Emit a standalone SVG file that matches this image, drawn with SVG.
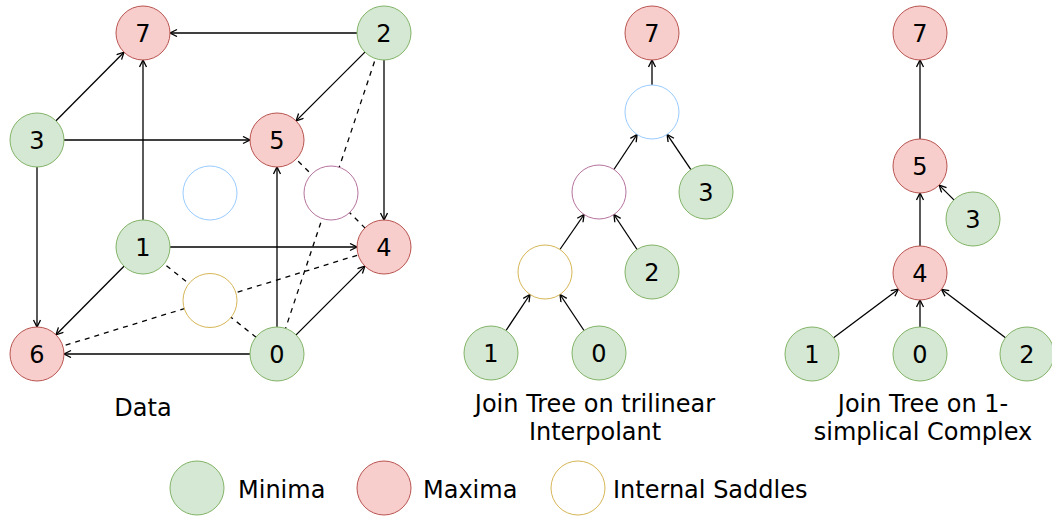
<svg xmlns="http://www.w3.org/2000/svg" width="1052" height="517" viewBox="0 0 1052 517">
<style>
.min{fill:#d5e8d4;stroke:#82b366;stroke-width:1}
.max{fill:#f8cecc;stroke:#b85450;stroke-width:1}
.sy{fill:#fff;stroke:#d6b656;stroke-width:1}
.sp{fill:#fff;stroke:#b5739d;stroke-width:1}
.sb{fill:#fff;stroke:#99ccff;stroke-width:1}
.e{stroke:#000;stroke-width:1.3;fill:none;marker-end:url(#arr)}
.d{stroke:#000;stroke-width:1.3;fill:none;stroke-dasharray:5 5}
text{font-family:"DejaVu Sans","Liberation Sans",sans-serif;font-size:24px;fill:#000}
.n{text-anchor:middle;dominant-baseline:central}
.c{text-anchor:middle}
</style>
<defs>
<marker id="arr" markerWidth="10" markerHeight="10" refX="8" refY="4" orient="auto" markerUnits="userSpaceOnUse">
<path d="M1,0.5 L8,4 L1,7.5" fill="none" stroke="#000" stroke-width="1.3"/>
</marker>
</defs>
<rect width="1052" height="517" fill="#fff"/>
<g id="connectors">
<line class="d" x1="384" y1="33" x2="277" y2="354"/>
<line class="d" x1="277" y1="140" x2="384" y2="247"/>
<line class="d" x1="143" y1="247" x2="277" y2="354"/>
<line class="d" x1="37" y1="354" x2="384" y2="247"/>
<line class="e" x1="357" y1="33" x2="170" y2="33"/>
<line class="e" x1="364.9" y1="52.1" x2="296.1" y2="120.9"/>
<line class="e" x1="384" y1="60" x2="384" y2="220"/>
<line class="e" x1="56" y1="120.8" x2="124" y2="52.2"/>
<line class="e" x1="64" y1="140" x2="250" y2="140"/>
<line class="e" x1="37" y1="167" x2="37" y2="327"/>
<line class="e" x1="143" y1="220" x2="143" y2="60"/>
<line class="e" x1="170" y1="247" x2="357" y2="247"/>
<line class="e" x1="124" y1="266.2" x2="56" y2="334.8"/>
<line class="e" x1="277" y1="327" x2="277" y2="167"/>
<line class="e" x1="250" y1="354" x2="64" y2="354"/>
<line class="e" x1="296.1" y1="334.9" x2="364.9" y2="266.1"/>
<line class="e" x1="652" y1="85" x2="652" y2="60"/>
<line class="e" x1="613.9" y1="169.5" x2="637.1" y2="134.5"/>
<line class="e" x1="690.9" y1="169.6" x2="667.1" y2="134.4"/>
<line class="e" x1="559.9" y1="249.5" x2="584.1" y2="214.5"/>
<line class="e" x1="637.1" y1="249.5" x2="613.9" y2="214.5"/>
<line class="e" x1="506" y1="330.5" x2="530" y2="294.5"/>
<line class="e" x1="584" y1="330.5" x2="560" y2="294.5"/>
<line class="e" x1="920" y1="139" x2="920" y2="60"/>
<line class="e" x1="920" y1="246" x2="920" y2="193"/>
<line class="e" x1="953.9" y1="199.9" x2="939.1" y2="185.1"/>
<line class="e" x1="833.6" y1="337.8" x2="898.4" y2="289.2"/>
<line class="e" x1="920" y1="327" x2="920" y2="300"/>
<line class="e" x1="1005.5" y1="337.7" x2="941.5" y2="289.3"/>
</g>
<g id="cube-7"><circle class="max" cx="143" cy="33" r="27"/><text class="n" x="143" y="34">7</text></g>
<g id="cube-2"><circle class="min" cx="384" cy="33" r="27"/><text class="n" x="384" y="34">2</text></g>
<g id="cube-3"><circle class="min" cx="37" cy="140" r="27"/><text class="n" x="37" y="141">3</text></g>
<g id="cube-5"><circle class="max" cx="277" cy="140" r="27"/><text class="n" x="277" y="141">5</text></g>
<g id="cube-sb"><circle class="sb" cx="210" cy="193" r="27"/></g>
<g id="cube-sp"><circle class="sp" cx="331" cy="193" r="27"/></g>
<g id="cube-1"><circle class="min" cx="143" cy="247" r="27"/><text class="n" x="143" y="248">1</text></g>
<g id="cube-4"><circle class="max" cx="384" cy="247" r="27"/><text class="n" x="384" y="248">4</text></g>
<g id="cube-sy"><circle class="sy" cx="210" cy="300.5" r="27"/></g>
<g id="cube-6"><circle class="max" cx="37" cy="354" r="27"/><text class="n" x="37" y="355">6</text></g>
<g id="cube-0"><circle class="min" cx="277" cy="354" r="27"/><text class="n" x="277" y="355">0</text></g>
<g id="label-data"><text class="c" x="143" y="416">Data</text></g>

<g id="jt-7"><circle class="max" cx="652" cy="33" r="27"/><text class="n" x="652" y="34">7</text></g>
<g id="jt-sb"><circle class="sb" cx="652" cy="112" r="27"/></g>
<g id="jt-sp"><circle class="sp" cx="599" cy="192" r="27"/></g>
<g id="jt-3"><circle class="min" cx="706" cy="192" r="27"/><text class="n" x="706" y="193">3</text></g>
<g id="jt-sy"><circle class="sy" cx="545" cy="272" r="27"/></g>
<g id="jt-2"><circle class="min" cx="652" cy="272" r="27"/><text class="n" x="652" y="273">2</text></g>
<g id="jt-1"><circle class="min" cx="491" cy="353" r="27"/><text class="n" x="491" y="354">1</text></g>
<g id="jt-0"><circle class="min" cx="599" cy="353" r="27"/><text class="n" x="599" y="354">0</text></g>
<g id="label-jt"><text class="c" x="595" y="412">Join Tree on trilinear</text><text class="c" x="595" y="440">Interpolant</text></g>

<g id="js-7"><circle class="max" cx="920" cy="33" r="27"/><text class="n" x="920" y="34">7</text></g>
<g id="js-5"><circle class="max" cx="920" cy="166" r="27"/><text class="n" x="920" y="167">5</text></g>
<g id="js-3"><circle class="min" cx="973" cy="219" r="27"/><text class="n" x="973" y="220">3</text></g>
<g id="js-4"><circle class="max" cx="920" cy="273" r="27"/><text class="n" x="920" y="274">4</text></g>
<g id="js-1"><circle class="min" cx="812" cy="354" r="27"/><text class="n" x="812" y="355">1</text></g>
<g id="js-0"><circle class="min" cx="920" cy="354" r="27"/><text class="n" x="920" y="355">0</text></g>
<g id="js-2"><circle class="min" cx="1027" cy="354" r="27"/><text class="n" x="1027" y="355">2</text></g>
<g id="label-js"><text class="c" x="923" y="412">Join Tree on 1-</text><text class="c" x="923" y="440">simplical Complex</text></g>

<g id="legend">
<circle class="min" cx="197" cy="488" r="27"/><text x="238" y="498">Minima</text>
<circle class="max" cx="384" cy="488" r="27"/><text x="423" y="498">Maxima</text>
<circle class="sy" cx="578" cy="488" r="27"/><text x="613" y="498">Internal Saddles</text>
</g>
</svg>
